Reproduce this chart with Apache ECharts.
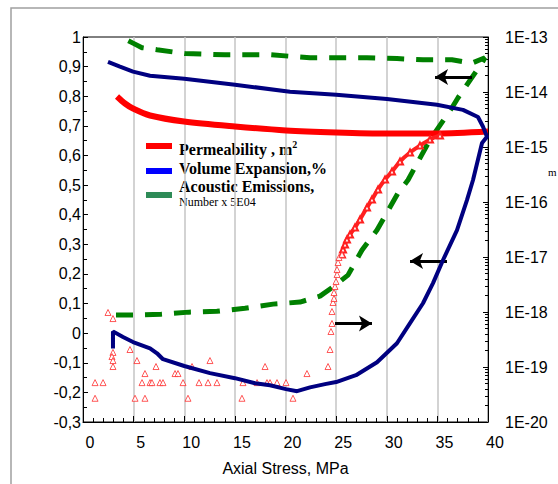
<!DOCTYPE html>
<html><head><meta charset="utf-8">
<script src="https://cdn.jsdelivr.net/npm/echarts@6/dist/echarts.min.js"></script>
<style>html,body{margin:0;padding:0;background:#fff}#c{width:558px;height:484px}</style>
</head><body><div id="c"></div>
<script>
// Volume expansion (%), left axis
const volX = [2.96,2.96,3.95,4.94,6.62,7.31,7.90,10.0,12.54,15.01,16.99,18.47,20.05,21.14,22.42,23.9,25.0,26.96,29.04,31.01,32.3,33.58,34.57,35.56,36.94,37.93,38.52,39.41,39.9,39.51,39.01,37.53,34.96,30.02,25.0,20.44,15.01,10.0,6.62,4.94,3.65,2.47];
const volY = [-0.052,0.006,-0.013,-0.030,-0.051,-0.068,-0.088,-0.111,-0.135,-0.152,-0.169,-0.176,-0.189,-0.196,-0.183,-0.172,-0.165,-0.142,-0.098,-0.034,0.034,0.101,0.169,0.247,0.348,0.45,0.517,0.642,0.663,0.697,0.73,0.754,0.771,0.791,0.805,0.815,0.839,0.859,0.869,0.883,0.9,0.916];
// Acoustic emissions (number x 5E04), left axis
const aeX = [3.26,4.94,7.70,10.47,13.23,16.0,18.77,21.43,23.41,24.69,26.17,27.56,29.04,31.11,32.1,34.27,36.44,37.04,39.41,39.7,38.42,36.44,33.58,31.01,28.05,25.19,22.42,18.47,14.02,10.07,7.31,5.83,4.84,3.75];
const aeY = [0.061,0.061,0.064,0.071,0.074,0.084,0.098,0.105,0.125,0.156,0.196,0.281,0.348,0.473,0.517,0.653,0.761,0.795,0.913,0.93,0.912,0.923,0.923,0.927,0.93,0.93,0.93,0.94,0.94,0.944,0.957,0.964,0.981,1.0];
// Permeability (m2), right log axis — foot of the rising branch
const permFootX = [24.2,24.4,24.49,24.59,24.59,24.69,24.79,24.79,24.89,24.99,25.09,25.09,25.19,25.28,25.58];
const permFootY = [1.02e-19,2.08e-19,4.42e-19,6.18e-19,1.02e-18,1.49e-18,1.76e-18,2.26e-18,2.91e-18,3.59e-18,4.81e-18,5.93e-18,7.94e-18,9.8e-18,1.11e-17];
// Permeability — dense rising branch
const permRiseX = [25.58,25.68,25.88,26.07,26.37,26.86,27.36,28.05,28.54,29.14,29.83,30.52,31.31,32.3,33.28,34.27,35.26];
const permRiseY = [1.11e-17,1.37e-17,1.69e-17,2.08e-17,2.56e-17,3.43e-17,4.81e-17,7.94e-17,1.11e-16,1.69e-16,2.56e-16,3.59e-16,5.45e-16,7.94e-16,1.06e-15,1.37e-15,1.62e-15];
// Permeability — upper branch
const permTopX = [40,34.96,30.02,24.99,20.05,15.01,9.98,6.62,4.94,4.15,3.36];
const permTopY = [1.91e-15,1.76e-15,1.76e-15,1.84e-15,2.0e-15,2.36e-15,2.91e-15,3.74e-15,5.0e-15,6.18e-15,8.28e-15];
// Permeability — scattered low readings
const permLowX = [1.19,1.98,1.19,2.47,2.96,2.96,2.86,2.96,2.96,4.64,5.14,5.33,5.83,6.12,6.12,6.62,6.81,7.21,7.60,7.90,9.09,9.38,9.88,10.37,10.77,11.46,12.35,12.54,13.23,15.70,15.80,17.19,17.98,18.17,18.47,19.16,20.05,20.74,22.12];
const permLowY = [5.2e-20,5.2e-20,2.7e-20,9.8e-19,7.6e-19,1.84e-19,1.55e-19,1.31e-19,1.02e-19,2.08e-19,2.7e-20,1.31e-19,5.2e-20,7.6e-20,2.7e-20,5.2e-20,5.2e-20,1.02e-19,5.2e-20,5.2e-20,7.6e-20,7.6e-20,5.2e-20,2.7e-20,1.02e-19,5.2e-20,5.2e-20,1.31e-19,5.2e-20,2.7e-20,5.2e-20,5.2e-20,1.02e-19,5.2e-20,5.2e-20,5.2e-20,5.2e-20,2.7e-20,7.6e-20];
// Arrows [x0, x1, y] on left axis
const arrows = [[38.42,34.77,0.865],[35.95,32.3,0.2435],[24.89,28.54,0.033]];

const zip = (a,b) => a.map((v,i)=>[v,b[i]]);
const F = 'Liberation Sans, Arial, sans-serif';
const chart = echarts.init(document.getElementById('c'), null, {renderer:'svg'});
chart.setOption({
  animation:false,
  grid:{left:83,right:70,top:37,bottom:62,show:true,borderColor:'#000',borderWidth:1},
  xAxis:{type:'value',min:0,max:40,interval:5,
    name:'Axial Stress, MPa',nameLocation:'middle',nameGap:38,
    nameTextStyle:{fontFamily:F,fontSize:16,color:'#000'},
    axisLine:{onZero:false,lineStyle:{color:'#000'}},
    axisTick:{inside:true,length:6,lineStyle:{color:'#000'}},
    minorTick:{show:true,splitNumber:5,length:4,lineStyle:{color:'#000'}},
    axisLabel:{fontFamily:F,fontSize:16,color:'#000',margin:12,padding:[0,0,0,14]},
    splitLine:{show:true,lineStyle:{color:'#c4c4c4',width:1.5}}},
  yAxis:[{type:'value',min:-0.3,max:1,interval:0.1,position:'left',
    axisLine:{show:true,onZero:false,lineStyle:{color:'#000'}},
    axisTick:{show:true,inside:true,length:5,lineStyle:{color:'#000'}},
    minorTick:{show:true,splitNumber:2,length:4,lineStyle:{color:'#000'}},
    splitLine:{show:false},
    axisLabel:{fontFamily:F,fontSize:16,color:'#000',margin:2,
      formatter:v=>{const r=Math.round(v*10)/10;return r===0?'0':(r===1?'1':r.toFixed(1).replace('.',','));}}},
   {type:'log',logBase:10,min:1e-20,max:1e-13,position:'right',
    axisLine:{show:true,onZero:false,lineStyle:{color:'#000'}},
    axisTick:{show:true,inside:true,length:5,lineStyle:{color:'#000'}},
    minorTick:{show:true,splitNumber:9,length:3,lineStyle:{color:'#000'}},
    splitLine:{show:false},
    axisLabel:{fontFamily:F,fontSize:16,color:'#000',margin:17,
      formatter:v=>'1E'+Math.round(Math.log10(v))}}],
  graphic:[
    {type:'rect',z:-10,shape:{x:11,y:8,width:600,height:600},style:{fill:'none',stroke:'#a0a0a0',lineWidth:1.5}},
    {type:'rect',shape:{x:146,y:143,width:26,height:6},style:{fill:'#ff0000'}},
    {type:'rect',shape:{x:146,y:168,width:26,height:6},style:{fill:'#0000ff'}},
    {type:'rect',shape:{x:146,y:192,width:26,height:6},style:{fill:'#2e8b57'}},
    {type:'text',x:179,y:149,style:{text:'{a|Permeability , m}{s|2}',verticalAlign:'middle',
      rich:{a:{fontFamily:'Liberation Serif',fontWeight:'bold',fontSize:16,fill:'#000'},
            s:{fontFamily:'Liberation Serif',fontWeight:'bold',fontSize:10,fill:'#000',padding:[0,0,10,0]}}}},
    {type:'text',x:179,y:168,style:{text:'Volume Expansion,%',verticalAlign:'middle',font:'bold 16px Liberation Serif',fill:'#000'}},
    {type:'text',x:179,y:186,style:{text:'Acoustic Emissions,',verticalAlign:'middle',font:'bold 16px Liberation Serif',fill:'#000'}},
    {type:'text',x:179,y:202,style:{text:'Number x 5E04',verticalAlign:'middle',font:'12px Liberation Serif',fill:'#000'}},
    {type:'text',x:548,y:172,style:{text:'m',verticalAlign:'middle',font:'11px Liberation Serif',fill:'#000'}}
  ],
  series:[
    {name:'AE',type:'line',yAxisIndex:0,data:zip(aeX,aeY),showSymbol:false,
      lineStyle:{color:'#008000',width:5,type:[17,12],cap:'butt'},z:3},
    {name:'PermTop',type:'line',yAxisIndex:1,data:zip(permTopX,permTopY),showSymbol:false,smooth:0.3,
      lineStyle:{color:'#ff0000',width:6},z:4},
    {name:'PermRise',type:'line',yAxisIndex:1,data:zip(permRiseX,permRiseY),smooth:0.3,
      symbol:'emptyTriangle',symbolSize:6,showAllSymbol:true,
      itemStyle:{color:'#ff2020',borderWidth:1},lineStyle:{color:'#ff2020',width:4},z:4},
    {name:'PermFoot',type:'scatter',yAxisIndex:1,data:zip(permFootX,permFootY),symbol:'triangle',symbolSize:6,
      itemStyle:{color:'#fff',borderColor:'#ff3030',borderWidth:1},z:4},
    {name:'PermLow',type:'scatter',yAxisIndex:1,data:zip(permLowX,permLowY),symbol:'triangle',symbolSize:6,
      itemStyle:{color:'#fff',borderColor:'#ff3030',borderWidth:1},z:4},
    {name:'Vol',type:'line',yAxisIndex:0,data:zip(volX,volY),showSymbol:false,
      lineStyle:{color:'#000080',width:4},z:5,
      markLine:{silent:true,symbol:['none','arrow'],symbolSize:[12,13],label:{show:false},
        lineStyle:{color:'#000',width:3,type:'solid'},
        data:arrows.map(a=>[{coord:[a[0],a[2]]},{coord:[a[1],a[2]]}])}}
  ]
});
</script></body></html>
